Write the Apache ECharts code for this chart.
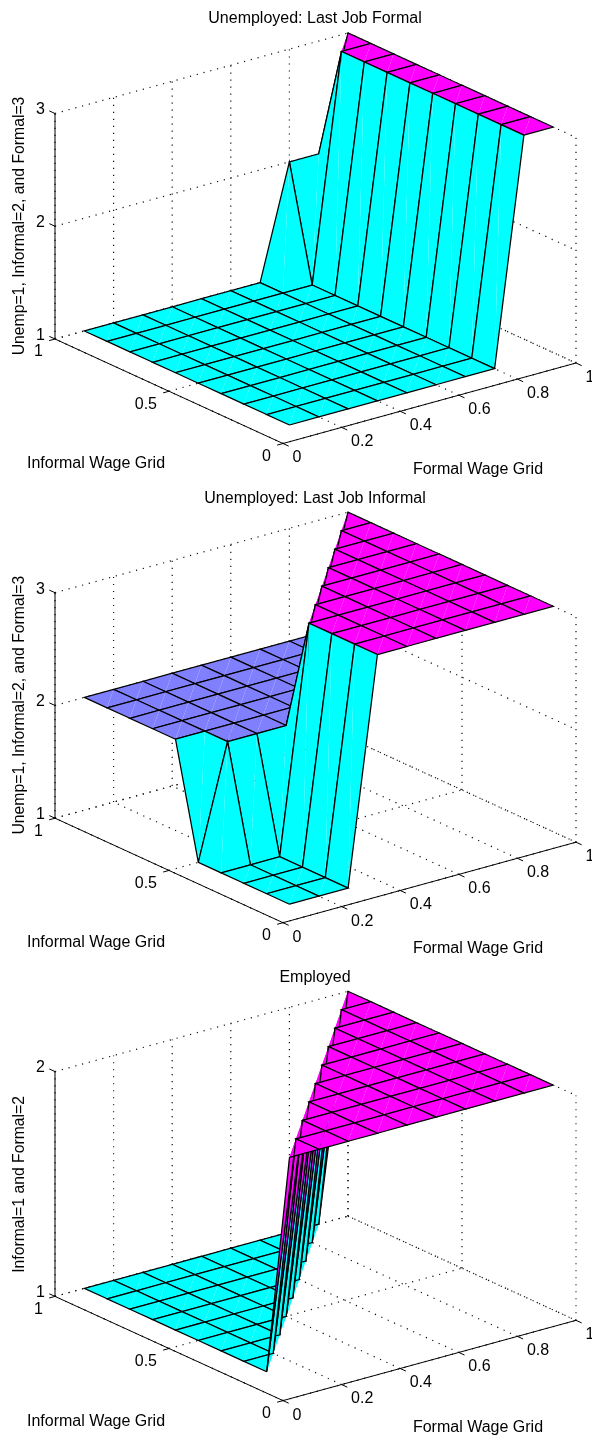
<!DOCTYPE html>
<html>
<head>
<meta charset="utf-8">
<title>Wage grid policy surfaces</title>
<style>
  html, body { margin: 0; padding: 0; background: #fff; }
  #main { width: 592px; height: 1436px; }
</style>
<script src="https://cdn.jsdelivr.net/npm/echarts@6/dist/echarts.min.js"></script>
</head>
<body>
<div id="main"></div>
<script>
// wage grid of the surfaces, same for both directions
var wageGrid = [0.1, 0.2, 0.3, 0.4, 0.5, 0.6, 0.7, 0.8, 0.9, 1];

// rows: informal wage 0.1 -> 1, columns: formal wage 0.1 -> 1
var lastJobFormal = [
  [1, 1, 1, 1, 1, 1, 1, 1, 3, 3],
  [1, 1, 1, 1, 1, 1, 1, 1, 3, 3],
  [1, 1, 1, 1, 1, 1, 1, 1, 3, 3],
  [1, 1, 1, 1, 1, 1, 1, 1, 3, 3],
  [1, 1, 1, 1, 1, 1, 1, 1, 3, 3],
  [1, 1, 1, 1, 1, 1, 1, 1, 3, 3],
  [1, 1, 1, 1, 1, 1, 1, 1, 3, 3],
  [1, 1, 1, 1, 1, 1, 1, 1, 3, 3],
  [1, 1, 1, 1, 1, 1, 1, 1, 3, 3],
  [1, 1, 1, 1, 1, 1, 1, 2, 2, 3]
];
var lastJobInformal = [
  [1, 1, 1, 3, 3, 3, 3, 3, 3, 3],
  [1, 1, 1, 3, 3, 3, 3, 3, 3, 3],
  [1, 1, 1, 3, 3, 3, 3, 3, 3, 3],
  [1, 1, 1, 3, 3, 3, 3, 3, 3, 3],
  [1, 2, 2, 2, 3, 3, 3, 3, 3, 3],
  [2, 2, 2, 2, 2, 3, 3, 3, 3, 3],
  [2, 2, 2, 2, 2, 2, 3, 3, 3, 3],
  [2, 2, 2, 2, 2, 2, 2, 3, 3, 3],
  [2, 2, 2, 2, 2, 2, 2, 2, 3, 3],
  [2, 2, 2, 2, 2, 2, 2, 2, 2, 3]
];
var employed = [
  [2, 2, 2, 2, 2, 2, 2, 2, 2, 2],
  [1, 2, 2, 2, 2, 2, 2, 2, 2, 2],
  [1, 1, 2, 2, 2, 2, 2, 2, 2, 2],
  [1, 1, 1, 2, 2, 2, 2, 2, 2, 2],
  [1, 1, 1, 1, 2, 2, 2, 2, 2, 2],
  [1, 1, 1, 1, 1, 2, 2, 2, 2, 2],
  [1, 1, 1, 1, 1, 1, 2, 2, 2, 2],
  [1, 1, 1, 1, 1, 1, 1, 2, 2, 2],
  [1, 1, 1, 1, 1, 1, 1, 1, 2, 2],
  [1, 1, 1, 1, 1, 1, 1, 1, 1, 2]
];

var formalTicks = [0, 0.2, 0.4, 0.6, 0.8, 1];
var informalTicks = [0, 0.5, 1];
var zTicks3 = [1, 2, 3];
var zTicks2 = [1, 2];

var panels = [
  { title: 'Unemployed: Last Job Formal', zLabel: 'Unemp=1, Informal=2, and Formal=3', z: lastJobFormal, zTicks: zTicks3 },
  { title: 'Unemployed: Last Job Informal', zLabel: 'Unemp=1, Informal=2, and Formal=3', z: lastJobInformal, zTicks: zTicks3 },
  { title: 'Employed', zLabel: 'Informal=1 and Formal=2', z: employed, zTicks: zTicks2 }
];

var PANEL_STEP = 479.2;
var FONT = '"Liberation Sans", Arial, Helvetica, sans-serif';
var TICK_SIZE = 16;

// fixed viewing direction: one unit of each data axis in screen units
function project(f, i, zn) {
  return [f * 293 - i * 228, f * 80.5 + i * 104.5 + zn * 225.5];
}

// same colours as matlab "cool"
function coolColor(t) {
  return 'rgb(' + Math.round(255 * t) + ',' + Math.round(255 * (1 - t)) + ',255)';
}

function frameItem(api, a, b, dotted) {
  var p = api.coord(a), q = api.coord(b);
  return {
    type: 'line',
    shape: { x1: p[0], y1: p[1], x2: q[0], y2: q[1] },
    style: dotted
      ? { stroke: '#111', lineWidth: 1.2, lineDash: [1.2, 5.8] }
      : { stroke: '#000', lineWidth: 1 }
  };
}

function textItem(api, at, dx, dy, text, align) {
  var p = api.coord(at);
  return {
    type: 'text',
    style: {
      text: text, x: p[0] + dx, y: p[1] + dy, fill: '#000',
      font: TICK_SIZE + 'px ' + FONT, align: align, verticalAlign: 'middle'
    }
  };
}

var grids = [], xAxes = [], yAxes = [], titles = [], series = [];

panels.forEach(function (panel, k) {
  var top = k * PANEL_STEP;
  var zMin = panel.zTicks[0], zMax = panel.zTicks[panel.zTicks.length - 1];
  function zNorm(z) { return (z - zMin) / (zMax - zMin); }

  grids.push({ left: 0, top: top, width: 592, height: 479 });
  xAxes.push({ type: 'value', gridIndex: k, min: -283, max: 309, show: false });
  yAxes.push({ type: 'value', gridIndex: k, min: -35.5, max: 443.5, show: false });
  titles.push({
    text: panel.title, left: 315, top: top + 11, padding: 0, textAlign: 'center',
    textStyle: { fontFamily: FONT, fontSize: 16, fontWeight: 'normal', color: '#000' }
  });

  // box grid, drawn behind the surface
  series.push({
    type: 'custom', xAxisIndex: k, yAxisIndex: k, silent: true, animation: false, clip: false,
    data: [[0, 0]],
    renderItem: function (params, api) {
      var c = [];
      formalTicks.forEach(function (f) {
        c.push(frameItem(api, project(f, 0, 0), project(f, 1, 0), true));
        c.push(frameItem(api, project(f, 1, 0), project(f, 1, 1), true));
      });
      informalTicks.forEach(function (i) {
        c.push(frameItem(api, project(0, i, 0), project(1, i, 0), true));
        c.push(frameItem(api, project(1, i, 0), project(1, i, 1), true));
      });
      panel.zTicks.forEach(function (z) {
        var n = zNorm(z);
        c.push(frameItem(api, project(0, 1, n), project(1, 1, n), true));
        c.push(frameItem(api, project(1, 1, n), project(1, 0, n), true));
      });
      // solid axes and their ticks
      c.push(frameItem(api, project(0, 1, 0), project(0, 1, 1), false));
      c.push(frameItem(api, project(0, 1, 0), project(0, 0, 0), false));
      c.push(frameItem(api, project(0, 0, 0), project(1, 0, 0), false));
      formalTicks.forEach(function (f) {
        c.push(frameItem(api, project(f, 0, 0), project(f, -0.025, 0), false));
      });
      informalTicks.forEach(function (i) {
        c.push(frameItem(api, project(0, i, 0), project(-0.02, i, 0), false));
      });
      panel.zTicks.forEach(function (z) {
        var n = zNorm(z);
        c.push(frameItem(api, project(0, 1, n), project(0, 1.025, n), false));
      });
      return { type: 'group', children: c };
    }
  });

  // surface cells, back to front so nearer cells cover the far ones
  var cells = [];
  for (var r = wageGrid.length - 2; r >= 0; r--) {
    for (var s = wageGrid.length - 2; s >= 0; s--) {
      cells.push([s, r]);
    }
  }
  series.push({
    type: 'custom', xAxisIndex: k, yAxisIndex: k, silent: true, animation: false, clip: false,
    encode: { x: 0, y: 1 },
    data: cells,
    renderItem: function (params, api) {
      var s = api.value(0), r = api.value(1);
      function pt(a, b) {
        return api.coord(project(wageGrid[a], wageGrid[b], zNorm(panel.z[b][a])));
      }
      var A = pt(s, r), B = pt(s + 1, r), C = pt(s + 1, r + 1), D = pt(s, r + 1);
      var fill = coolColor(zNorm(panel.z[r][s]));
      return {
        type: 'group',
        children: [
          { type: 'polygon', shape: { points: [A, B, C] }, style: { fill: fill } },
          { type: 'polygon', shape: { points: [A, C, D] }, style: { fill: fill } },
          { type: 'polyline', shape: { points: [A, B, C, D, A] }, style: { fill: null, stroke: '#000', lineWidth: 1.25 } }
        ]
      };
    }
  });

  // tick labels and axis names
  series.push({
    type: 'custom', xAxisIndex: k, yAxisIndex: k, silent: true, animation: false, clip: false,
    data: [[0, 0]],
    renderItem: function (params, api) {
      var c = [];
      formalTicks.forEach(function (f) {
        c.push(textItem(api, project(f, 0, 0), 9.5, 14.5, String(f), 'left'));
      });
      informalTicks.forEach(function (i) {
        c.push(textItem(api, project(0, i, 0), -12, 13, String(i), 'right'));
      });
      panel.zTicks.forEach(function (z) {
        c.push(textItem(api, project(0, 1, zNorm(z)), -10, -3.5, String(z), 'right'));
      });
      var o = api.coord([-283, 443.5]);
      c.push(textItem(api, [-283, 443.5], 96, 463.5, 'Informal Wage Grid', 'center'));
      c.push(textItem(api, [-283, 443.5], 478, 469.5, 'Formal Wage Grid', 'center'));
      c.push({
        type: 'text', x: o[0] + 19.5, y: o[1] + 226, rotation: Math.PI / 2,
        style: {
          text: panel.zLabel, x: 0, y: 0, fill: '#000',
          font: '15.75px ' + FONT, align: 'center', verticalAlign: 'middle'
        }
      });
      return { type: 'group', children: c };
    }
  });
});

var chart = echarts.init(document.getElementById('main'));
chart.setOption({
  backgroundColor: '#fff',
  animation: false,
  title: titles,
  grid: grids,
  xAxis: xAxes,
  yAxis: yAxes,
  series: series
});
</script>
</body>
</html>
